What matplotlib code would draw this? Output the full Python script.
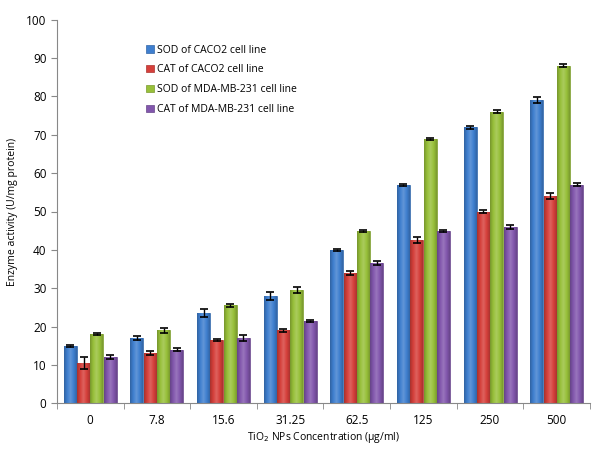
import numpy as np
import matplotlib.pyplot as plt
from matplotlib.colors import LinearSegmentedColormap, to_rgb

plt.rcParams['font.family'] = ['Open Sans', 'DejaVu Sans']

concs = ['0', '7.8', '15.6', '31.25', '62.5', '125', '250', '500']
labels = ['SOD of CACO2 cell line', 'CAT of CACO2 cell line',
          'SOD of MDA-MB-231 cell line', 'CAT of MDA-MB-231 cell line']

sod_caco2 = [15, 17, 23.5, 28, 40, 57, 72, 79]
cat_caco2 = [10.5, 13, 16.5, 19, 34, 42.5, 50, 54]
sod_mda = [18, 19, 25.5, 29.5, 45, 69, 76, 88]
cat_mda = [12, 14, 17, 21.5, 36.5, 45, 46, 57]

err_sod_caco2 = [0.3, 0.6, 1.0, 1.0, 0.3, 0.3, 0.4, 0.8]
err_cat_caco2 = [1.5, 0.5, 0.3, 0.3, 0.5, 0.8, 0.3, 0.8]
err_sod_mda = [0.3, 0.6, 0.5, 0.8, 0.3, 0.3, 0.4, 0.4]
err_cat_mda = [0.5, 0.5, 0.7, 0.3, 0.5, 0.3, 0.5, 0.4]

series = [sod_caco2, cat_caco2, sod_mda, cat_mda]
errors = [err_sod_caco2, err_cat_caco2, err_sod_mda, err_cat_mda]
colors = ['#3f7fcf', '#d6403b', '#98c03a', '#8257ad']


def shade(c, f):
    r, g, b = to_rgb(c)
    if f < 1:
        return (r * f, g * f, b * f)
    f = f - 1
    return (r + (1 - r) * f, g + (1 - g) * f, b + (1 - b) * f)


fig = plt.figure(figsize=(5.99, 4.5), dpi=100)
ax = fig.add_axes([0.095, 0.104, 0.89, 0.852])

x = np.arange(len(concs))
w = 0.2
for i, (vals, errs, col) in enumerate(zip(series, errors, colors)):
    pos = x + (i - 1.5) * w
    bars = ax.bar(pos, vals, w * 0.97, color=col, edgecolor=shade(col, 0.8),
                  linewidth=0.5, label=labels[i], zorder=2)
    cmap = LinearSegmentedColormap.from_list(
        'c%d' % i, [shade(col, 0.78), col, shade(col, 1.18), col, shade(col, 0.8)])
    grad = np.linspace(0, 1, 64).reshape(1, -1)
    for b in bars:
        im = ax.imshow(grad, extent=[b.get_x(), b.get_x() + b.get_width(), 0, b.get_height()],
                       cmap=cmap, aspect='auto', zorder=2.5)
        im.set_clip_path(b)
    ax.errorbar(pos, vals, yerr=errs, fmt='none', ecolor='black',
                elinewidth=1, capsize=3, capthick=1.2, zorder=3)

ax.set_xlim(-0.5, len(concs) - 0.5)
ax.set_ylim(0, 100)
ax.set_yticks(range(0, 101, 10))
ax.set_xticks(x)
ax.set_xticklabels(concs)
ax.set_xticks(np.arange(-0.5, len(concs), 1), minor=True)
ax.tick_params(axis='x', which='major', length=0, pad=8, labelsize=8.5)
ax.tick_params(axis='x', which='minor', length=4, color='#888888')
ax.tick_params(axis='y', length=4, color='#888888', labelsize=8.5)
for s in ['top', 'right']:
    ax.spines[s].set_visible(False)
for s in ['left', 'bottom']:
    ax.spines[s].set_color('#888888')

ax.set_xlabel('TiO$_2$ NPs Concentration (µg/ml)', fontsize=7.5, labelpad=2)
ax.set_ylabel('Enzyme activity (U/mg protein)', fontsize=7.5, labelpad=6)

ax.legend(loc='upper left', bbox_to_anchor=(0.15, 0.96), frameon=False, fontsize=7.5,
          handlelength=0.7, handleheight=0.7, handletextpad=0.3, labelspacing=0.85)

fig.savefig('out.png', dpi=100)
